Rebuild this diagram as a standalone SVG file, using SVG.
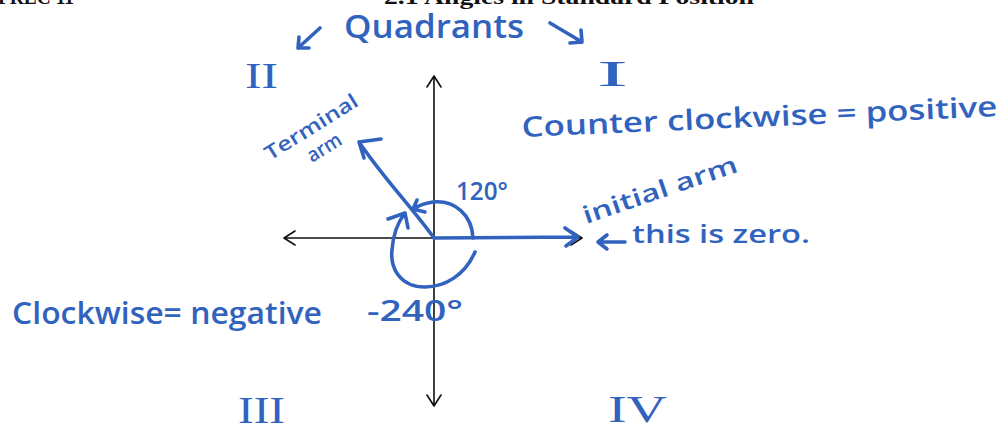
<svg xmlns="http://www.w3.org/2000/svg" width="1002" height="429" viewBox="0 0 1002 429">
<style>
.ax{stroke:#111;stroke-width:1.6;fill:none;stroke-linecap:round;stroke-linejoin:round}
.bl{stroke:#3163be;stroke-width:3.6;fill:none;stroke-linecap:round;stroke-linejoin:round}
.t{fill:#3163be;font-family:"Open Sans","Liberation Sans",sans-serif;font-weight:600}
.r{fill:#3163be;font-family:"Liberation Serif",serif}
.h{fill:#111;font-family:"Liberation Serif",serif;font-weight:bold;font-size:21px}
</style>
<rect width="1002" height="429" fill="#fff"/>
<text class="h" x="-2" y="4" textLength="76" lengthAdjust="spacingAndGlyphs">PREC 11</text>
<text class="h" x="384" y="4" textLength="370" lengthAdjust="spacingAndGlyphs">2.1 Angles in Standard Position</text>
<g id="axes">
<path class="ax" d="M434,76 V406 M427,87 L434,76 L441,87 M427,395 L434,406 L441,395"/>
<path class="ax" d="M284,238 H582 M295,231 L284,238 L295,245 M571,231 L582,238 L571,245"/>
</g>
<g id="connectors">
<path class="bl" d="M434,238 L577,237 M565,228 L578,237 L566,246"/>
<path class="bl" d="M434,238 C410,205 385,180 359,142 M359,142 L381,139 M359,142 L364,158"/>
<path class="bl" d="M473,238 C472,215 455,200 433,202 C425,203 418,206 413,209 M413,209 L417,200 M413,209 L425,212"/>
<path class="bl" d="M475,252 C465,275 445,287 425,287 C400,287 390,268 392,250 C393,235 398,222 405,213 M405,213 L388,219 M405,213 L408,228"/>
<path class="bl" d="M320,28 L298,48 M299,37 L298,48 L309,48"/>
<path class="bl" d="M550,23 L582,42 M581,30 L582,42 L570,43"/>
<path class="bl" d="M625,242 H598 M607,235 L598,242 L607,249"/>
</g>
<g id="labels">
<text class="t" x="344" y="38" font-size="32" textLength="180" lengthAdjust="spacingAndGlyphs">Quadrants</text>
<text class="r" x="245" y="88" font-size="36" textLength="33" lengthAdjust="spacingAndGlyphs">II</text>
<text class="r" x="597" y="86" font-size="36" textLength="31" lengthAdjust="spacingAndGlyphs">I</text>
<text class="r" x="238" y="423" font-size="37" textLength="47" lengthAdjust="spacingAndGlyphs">III</text>
<text class="r" x="608" y="422" font-size="37" textLength="59" lengthAdjust="spacingAndGlyphs">IV</text>
<text class="t" font-size="20" transform="translate(270,161) rotate(-32)" textLength="106" lengthAdjust="spacingAndGlyphs">Terminal</text>
<text class="t" font-size="20" transform="translate(312,163) rotate(-32)" textLength="37" lengthAdjust="spacingAndGlyphs">arm</text>
<text class="t" x="456" y="200" font-size="26" textLength="52" lengthAdjust="spacingAndGlyphs">120°</text>
<text class="t" x="367" y="321" font-size="28" textLength="96" lengthAdjust="spacingAndGlyphs">-240°</text>
<text class="t" font-size="24" transform="translate(586,224) rotate(-19)" textLength="162" lengthAdjust="spacingAndGlyphs">initial arm</text>
<text class="t" x="632" y="243" font-size="26" textLength="178" lengthAdjust="spacingAndGlyphs">this is zero.</text>
<text class="t" font-size="28" transform="translate(522,137) rotate(-2.5)" textLength="476" lengthAdjust="spacingAndGlyphs">Counter clockwise = positive</text>
<text class="t" x="12" y="324" font-size="31" textLength="310" lengthAdjust="spacingAndGlyphs">Clockwise= negative</text>
</g>
</svg>
